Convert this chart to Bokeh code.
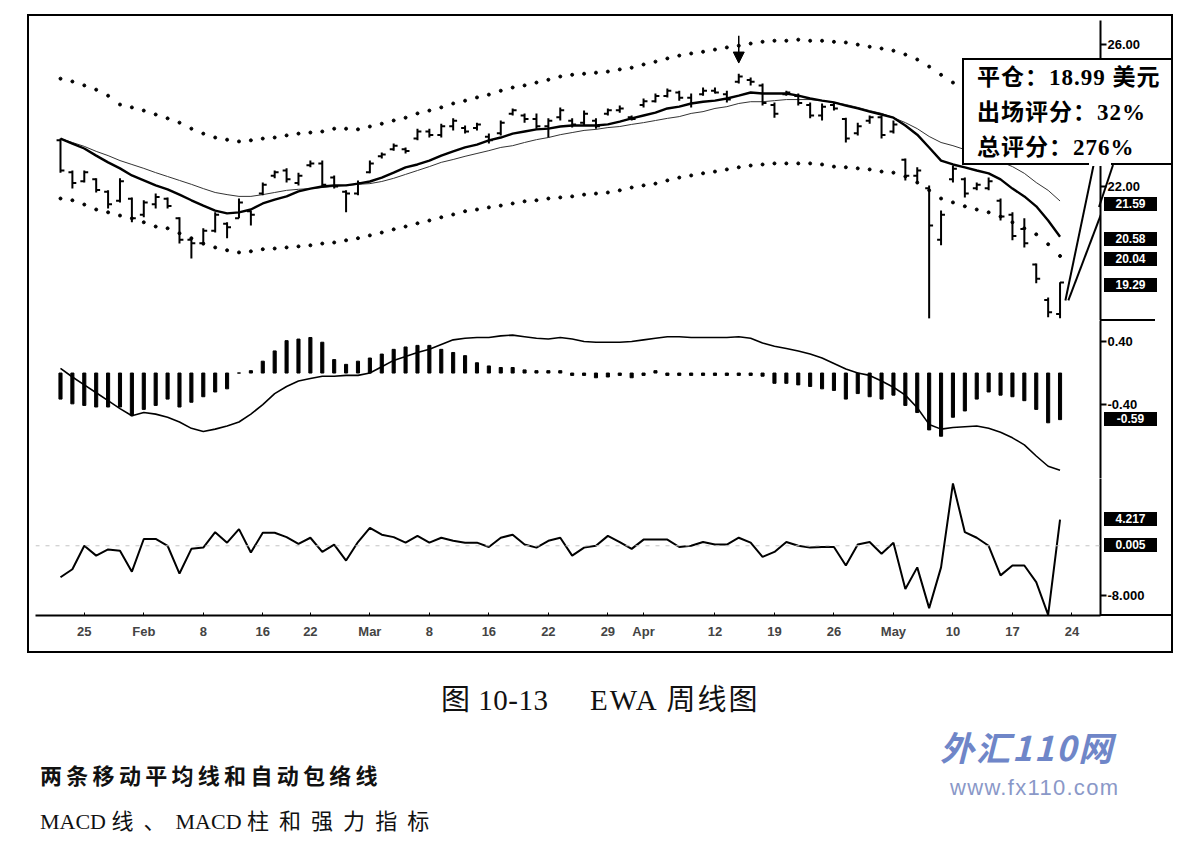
from bokeh.plotting import figure
from bokeh.models import (Range1d, FixedTicker, NumeralTickFormatter, Span,
                          Arrow, NormalHead, ColumnDataSource, Div)
from bokeh.layouts import column
from bokeh.embed import file_html
from bokeh.resources import INLINE

# ---------------- data ----------------
tick_pos = [2, 7, 12, 17, 21, 26, 31, 36, 41, 46, 49, 55, 60, 65, 70, 75, 80, 85]
tick_labels = ["25", "Feb", "8", "16", "22", "Mar", "8", "16", "22", "29", "Apr",
               "12", "19", "26", "May", "10", "17", "24"]

opens = [23.30, 22.40, 22.15, 22.20, 21.85, 21.60, 21.65, 21.20, 21.50, 21.65,
         21.10, 20.50, 20.40, 20.75, 20.95, 21.10, 21.30, 21.80, 22.30, 22.45,
         22.10, 22.60, 22.65, 22.25, 21.85, 21.80, 22.40, 22.85, 23.05, 23.05,
         23.35, 23.55, 23.45, 23.70, 23.65, 23.65, 23.40, 23.50, 24.05, 24.00,
         23.90, 23.70, 23.95, 23.85, 23.80, 23.85, 24.05, 24.15, 23.95, 24.30,
         24.40, 24.55, 24.65, 24.50, 24.60, 24.70, 24.60, 24.95, 25.00, 24.85,
         24.30, 24.60, 24.55, 24.30, 24.00, 24.30, 23.90, 23.50, 23.85, 23.95,
         23.55, 22.75, 22.30, 21.95, 20.50, 22.20, 22.20, 21.95, 21.95, 21.60,
         21.20, 20.80, 19.80, 18.80, 18.40]
highs = [23.35, 22.45, 22.45, 22.23, 21.89, 22.23, 21.69, 21.61, 21.80, 21.69,
         21.13, 20.56, 20.82, 21.27, 20.99, 21.66, 21.32, 22.11, 22.45, 22.51,
         22.39, 22.73, 22.73, 22.31, 21.89, 22.17, 22.73, 22.96, 23.21, 23.10,
         23.63, 23.63, 23.77, 23.92, 23.72, 23.80, 23.49, 23.86, 24.20, 24.06,
         24.06, 23.92, 24.23, 23.92, 24.14, 23.92, 24.20, 24.28, 24.00, 24.48,
         24.62, 24.76, 24.70, 24.62, 24.79, 24.79, 24.70, 25.18, 25.07, 24.90,
         24.37, 24.70, 24.62, 24.37, 24.34, 24.37, 23.94, 23.80, 24.00, 24.00,
         23.86, 22.79, 22.54, 22.03, 21.32, 22.59, 22.25, 22.11, 22.25, 21.66,
         21.27, 21.10, 19.83, 18.87, 19.30]
lows = [22.39, 21.94, 22.11, 21.83, 21.38, 21.55, 20.99, 21.13, 21.38, 21.38,
        20.39, 19.97, 20.34, 20.70, 20.54, 21.10, 20.90, 21.75, 22.23, 22.11,
        22.03, 22.54, 21.97, 21.94, 21.27, 21.75, 22.37, 22.79, 23.01, 22.93,
        23.30, 23.38, 23.38, 23.58, 23.49, 23.58, 23.21, 23.44, 24.00, 23.80,
        23.63, 23.38, 23.86, 23.66, 23.72, 23.63, 24.00, 24.08, 23.86, 24.23,
        24.37, 24.51, 24.42, 24.23, 24.56, 24.62, 24.37, 24.90, 24.85, 24.28,
        23.94, 24.56, 24.28, 23.92, 23.86, 24.14, 23.24, 23.44, 23.77, 23.35,
        23.49, 22.17, 22.08, 18.28, 20.34, 22.11, 21.69, 21.89, 21.89, 21.04,
        20.48, 20.28, 19.27, 18.31, 18.28]
closes = [22.45, 22.10, 22.40, 21.90, 21.50, 22.15, 21.10, 21.55, 21.70, 21.45,
          20.50, 20.40, 20.75, 21.20, 20.85, 21.55, 21.20, 22.05, 22.40, 22.20,
          22.30, 22.65, 22.05, 22.00, 21.80, 22.10, 22.65, 22.90, 23.15, 23.00,
          23.55, 23.45, 23.70, 23.85, 23.55, 23.75, 23.30, 23.80, 24.15, 23.90,
          23.70, 23.85, 24.15, 23.75, 24.05, 23.70, 24.15, 24.20, 23.90, 24.40,
          24.55, 24.70, 24.50, 24.35, 24.70, 24.65, 24.45, 25.10, 24.95, 24.35,
          24.05, 24.65, 24.35, 24.00, 24.25, 24.20, 23.35, 23.70, 23.95, 23.45,
          23.75, 22.30, 22.45, 20.90, 21.20, 22.50, 21.80, 22.05, 22.15, 21.15,
          20.60, 20.40, 19.40, 18.45, 19.29]
fast_ma = [23.35, 23.21, 23.07, 22.87, 22.68, 22.51, 22.31, 22.17, 22.03, 21.92,
           21.77, 21.61, 21.46, 21.32, 21.24, 21.27, 21.35, 21.52, 21.63, 21.72,
           21.86, 21.94, 22.00, 22.03, 22.03, 22.08, 22.14, 22.25, 22.39, 22.54,
           22.62, 22.73, 22.87, 22.99, 23.10, 23.18, 23.30, 23.38, 23.49, 23.55,
           23.61, 23.63, 23.69, 23.72, 23.72, 23.72, 23.75, 23.83, 23.92, 24.00,
           24.08, 24.20, 24.25, 24.34, 24.39, 24.42, 24.48, 24.56, 24.65, 24.62,
           24.62, 24.62, 24.56, 24.48, 24.42, 24.37, 24.28, 24.20, 24.11, 24.03,
           23.94, 23.72, 23.46, 23.10, 22.73, 22.62, 22.54, 22.45, 22.37, 22.20,
           21.94, 21.72, 21.44, 21.04, 20.58]
slow_ma = [23.35, 23.24, 23.13, 22.99, 22.87, 22.73, 22.62, 22.51, 22.39, 22.28,
           22.17, 22.06, 21.94, 21.83, 21.77, 21.72, 21.72, 21.77, 21.83, 21.89,
           21.92, 21.94, 21.97, 22.00, 22.03, 22.06, 22.08, 22.14, 22.23, 22.34,
           22.45, 22.56, 22.68, 22.76, 22.85, 22.93, 23.01, 23.10, 23.15, 23.24,
           23.32, 23.38, 23.46, 23.52, 23.58, 23.61, 23.66, 23.69, 23.75, 23.80,
           23.86, 23.92, 23.97, 24.06, 24.11, 24.20, 24.25, 24.34, 24.39, 24.39,
           24.42, 24.45, 24.45, 24.45, 24.42, 24.37, 24.31, 24.23, 24.14, 24.06,
           23.94, 23.80, 23.63, 23.41, 23.24, 23.15, 23.04, 22.93, 22.82, 22.70,
           22.56, 22.37, 22.11, 21.89, 21.59]
env_upper = [25.04, 24.96, 24.85, 24.73, 24.56, 24.31, 24.23, 24.14, 24.03, 23.92,
             23.80, 23.63, 23.49, 23.38, 23.32, 23.27, 23.30, 23.35, 23.38, 23.44,
             23.49, 23.52, 23.55, 23.63, 23.63, 23.61, 23.69, 23.77, 23.86, 23.94,
             24.06, 24.14, 24.23, 24.34, 24.42, 24.51, 24.59, 24.70, 24.79, 24.85,
             24.93, 25.01, 25.10, 25.15, 25.18, 25.21, 25.24, 25.30, 25.35, 25.44,
             25.52, 25.61, 25.69, 25.75, 25.80, 25.86, 25.92, 25.97, 26.03, 26.08,
             26.11, 26.11, 26.14, 26.11, 26.11, 26.08, 26.06, 26.00, 25.94, 25.89,
             25.83, 25.72, 25.58, 25.38, 25.15, 24.93, 24.76, 24.62, 24.48, 24.34,
             24.20, 24.03, 23.86, 23.66, 23.49]
env_lower = [21.66, 21.61, 21.49, 21.35, 21.27, 21.18, 21.10, 20.99, 20.87, 20.82,
             20.68, 20.54, 20.39, 20.28, 20.20, 20.14, 20.17, 20.23, 20.25, 20.28,
             20.31, 20.34, 20.39, 20.42, 20.48, 20.54, 20.62, 20.70, 20.79, 20.87,
             20.96, 21.04, 21.13, 21.21, 21.30, 21.35, 21.41, 21.46, 21.52, 21.58,
             21.61, 21.66, 21.69, 21.72, 21.77, 21.80, 21.83, 21.89, 21.97, 22.03,
             22.08, 22.17, 22.25, 22.31, 22.37, 22.42, 22.48, 22.54, 22.59, 22.62,
             22.65, 22.65, 22.65, 22.65, 22.62, 22.56, 22.54, 22.51, 22.48, 22.42,
             22.39, 22.28, 22.11, 21.89, 21.66, 21.55, 21.44, 21.35, 21.27, 21.15,
             20.99, 20.82, 20.65, 20.37, 20.04]
macd_line = [0.06, -0.05, -0.15, -0.25, -0.35, -0.45, -0.54, -0.50, -0.52, -0.56,
             -0.62, -0.70, -0.74, -0.71, -0.67, -0.62, -0.52, -0.40, -0.26, -0.17,
             -0.10, -0.07, -0.04, -0.04, -0.03, -0.03, 0.00, 0.08, 0.16, 0.21,
             0.26, 0.30, 0.36, 0.42, 0.44, 0.45, 0.45, 0.47, 0.48, 0.46,
             0.44, 0.43, 0.45, 0.43, 0.40, 0.39, 0.39, 0.39, 0.40, 0.42,
             0.44, 0.46, 0.46, 0.45, 0.45, 0.45, 0.45, 0.46, 0.44, 0.38,
             0.34, 0.31, 0.28, 0.24, 0.19, 0.12, 0.05, 0.00, -0.03, -0.10,
             -0.18, -0.28, -0.44, -0.65, -0.71, -0.69, -0.68, -0.67, -0.70, -0.75,
             -0.82, -0.91, -1.05, -1.18, -1.23]
macd_hist = [-0.33, -0.39, -0.41, -0.43, -0.43, -0.43, -0.54, -0.46, -0.41, -0.33,
             -0.43, -0.37, -0.30, -0.24, -0.20, 0.00, 0.03, 0.15, 0.28, 0.41,
             0.43, 0.45, 0.39, 0.17, 0.11, 0.15, 0.19, 0.24, 0.30, 0.33,
             0.35, 0.35, 0.30, 0.26, 0.22, 0.13, 0.09, 0.07, 0.07, 0.04,
             0.03, 0.03, 0.03, -0.03, -0.03, -0.06, -0.05, -0.03, -0.06, -0.03,
             0.03, -0.03, -0.03, -0.03, -0.03, -0.03, -0.03, -0.03, -0.03, -0.04,
             -0.13, -0.13, -0.15, -0.17, -0.20, -0.22, -0.33, -0.26, -0.30, -0.33,
             -0.28, -0.41, -0.50, -0.72, -0.80, -0.56, -0.48, -0.33, -0.24, -0.28,
             -0.30, -0.35, -0.46, -0.63, -0.59]
force = [-5.1, -3.8, 0.0, -1.6, -0.6, -0.8, -4.2, 1.1, 1.1, 0.0,
         -4.5, -0.5, -0.3, 2.2, 0.5, 2.7, -1.1, 2.1, 2.1, 1.4,
         0.3, 1.3, -1.0, 0.2, -2.4, 0.6, 2.9, 1.8, 1.4, 0.5,
         1.6, 0.5, 1.3, 0.8, 0.5, 0.5, -0.2, 1.3, 1.8, 0.2,
         -0.3, 0.8, 1.3, -1.6, -0.3, 0.0, 1.6, 0.6, -0.5, 1.0,
         1.0, 1.0, -0.2, 0.0, 0.6, 0.2, 0.2, 1.3, 0.5, -1.8,
         -1.0, 0.6, 0.0, -0.3, -0.2, -0.2, -3.2, 0.2, 0.6, -1.3,
         0.5, -7.0, -3.5, -10.1, -3.5, 10.1, 2.2, 1.3, 0.0, -4.8,
         -3.2, -3.2, -5.9, -11.2, 4.217]
force_mark = 0.005
callout_lines = ["平仓：18.99 美元", "出场评分：32%", "总评分：276%"]
caption = ["图 10-13", "EWA 周线图"]
notes = ["两条移动平均线和自动包络线", "MACD 线、MACD 柱和强力指标"]
watermark = ["外汇110网", "www.fx110.com"]

# ---------------- build ----------------
n = len(closes)
idx = list(range(n))
src = ColumnDataSource(dict(
    x=idx, xl=[i - 0.33 for i in idx], xr=[i + 0.33 for i in idx],
    o=opens, h=highs, l=lows, c=closes, fast=fast_ma, slow=slow_ma,
    up=env_upper, lo=env_lower, macd=macd_line, hist=macd_hist, force=force))

XR = Range1d(-2.1, 87.4)
W = 1142
FONT = "Liberation Sans"
common = dict(width=W, x_range=XR, output_backend="svg", toolbar_location=None,
              y_axis_location="right", min_border_left=6, min_border_right=71,
              outline_line_color=None, background_fill_color="white",
              border_fill_color="white")

YR1 = Range1d(18.22, 26.68)
YR2 = Range1d(-1.335, 0.665)
YR3 = Range1d(-11.3, 10.9)
p1 = figure(height=304, y_range=YR1, x_axis_location=None,
            min_border_top=4, min_border_bottom=0, **common)
p2 = figure(height=158, y_range=YR2, x_axis_location=None,
            min_border_top=0, min_border_bottom=0, **common)
p3 = figure(height=173, y_range=YR3,
            min_border_top=0, min_border_bottom=36, **common)


def style_y(p, ticks, fmt):
    p.grid.visible = False
    ax = p.yaxis[0]
    ax.ticker = FixedTicker(ticks=ticks, minor_ticks=[])
    ax.formatter = NumeralTickFormatter(format=fmt)
    ax.axis_line_width = 2
    ax.axis_line_color = "black"
    ax.major_tick_in = 0
    ax.major_tick_out = 6
    ax.major_tick_line_width = 2
    ax.minor_tick_line_color = None
    ax.major_label_text_font = FONT
    ax.major_label_text_font_size = "13px"
    ax.major_label_text_font_style = "bold"
    ax.major_label_text_color = "black"
    ax.major_label_standoff = 1


style_y(p1, [22, 26], "0.00")
style_y(p2, [-0.4, 0.4], "0.00")
style_y(p3, [-8], "0.000")

xa = p3.xaxis[0]
xa.ticker = FixedTicker(ticks=tick_pos, minor_ticks=[])
xa.major_label_overrides = {t: s for t, s in zip(tick_pos, tick_labels)}
xa.axis_line_width = 2
xa.major_tick_in = 3
xa.major_tick_out = 0
xa.major_tick_line_width = 1
xa.minor_tick_line_color = None
xa.major_label_text_font = FONT
xa.major_label_text_font_size = "13px"
xa.major_label_text_font_style = "bold"
xa.major_label_standoff = 8

# price panel
p1.scatter("x", "up", source=src, size=3, color="black")
p1.scatter("x", "lo", source=src, size=3, color="black")
p1.line("x", "slow", source=src, line_width=1, color="#333333")
p1.line("x", "fast", source=src, line_width=2.4, color="black")
p1.segment(x0="x", y0="l", x1="x", y1="h", source=src, line_width=2, color="black")
p1.segment(x0="xl", y0="o", x1="x", y1="o", source=src, line_width=2, color="black")
p1.segment(x0="x", y0="c", x1="xr", y1="c", source=src, line_width=2, color="black")

peak = highs.index(max(highs))
p1.add_layout(Arrow(x_start=peak, y_start=highs[peak] + 1.07, x_end=peak,
                    y_end=highs[peak] + 0.30, line_width=1.5,
                    end=NormalHead(size=11, fill_color="black", line_color="black")))

# callout pointer (towards the last bar)
tip_x = n - 1 + 0.45
tip_y = (closes[-1] + lows[-1]) / 2
p1.add_layout(Arrow(x_start=1058, y_start=155, start_units="screen",
                    x_end=tip_x, y_end=tip_y, end=None, line_width=2))
p1.add_layout(Arrow(x_start=1084, y_start=155, start_units="screen",
                    x_end=tip_x + 0.25, y_end=tip_y, end=None, line_width=2))

# MACD panel
p2.grid.visible = False
p2.vbar(x="x", top="hist", bottom=0, width=0.26, source=src, color="black")
p2.line("x", "macd", source=src, line_width=1.6, color="black")

# Force panel
p3.grid.visible = False
p3.add_layout(Span(location=0, dimension="width", line_color="#c4c4c4",
                   line_width=1, line_dash="4 6"))
p3.line("x", "force", source=src, line_width=2, color="black")

chart = column(p1, p2, p3, spacing=0, margin=(14, 0, 0, 27),
               styles={"border": "2px solid black"})

# ---------- html text layer below / over the chart ----------
DIV_TOP = 653
FRAMES = [(20, 300, YR1), (320, 158, YR2), (478, 137, YR3)]


def page_y(panel, v):
    top, h, r = FRAMES[panel]
    return top + (r.end - v) / (r.end - r.start) * h


def box(panel, v, txt, dy=0):
    t = page_y(panel, v) - 7 + dy - DIV_TOP
    return (f'<div style="position:absolute;left:1104px;top:{t:.1f}px;width:53px;height:14px;'
            f'background:#000;color:#fff;font:bold 12px \'Liberation Sans\',sans-serif;'
            f'line-height:14px;text-align:center;">{txt}</div>')


def spaced_cjk(s, gap):
    out = []
    for ch in s:
        if ord(ch) > 0x2000:
            out.append(f'<span style="letter-spacing:{gap}px">{ch}</span>')
        else:
            out.append(ch)
    return "".join(out)


parts = []
for v in [slow_ma[-1], fast_ma[-1], env_lower[-1], closes[-1]]:
    parts.append(box(0, v, f"{v:.2f}", dy=3))
parts.append(box(1, macd_hist[-1], f"{macd_hist[-1]:.2f}"))
parts.append(box(2, force[-1], f"{force[-1]:.3f}"))
parts.append(box(2, force_mark, f"{force_mark:.3f}"))

# axis-line extensions into the label column
parts.append(f'<div style="position:absolute;left:1100px;top:{614 - DIV_TOP}px;width:71px;height:2px;background:#000;"></div>')
parts.append(f'<div style="position:absolute;left:1100px;top:{319 - DIV_TOP}px;width:55px;height:2px;background:#000;"></div>')

# pointer piece outside the plotting frame
parts.append(f'<svg style="position:absolute;left:0px;top:{-DIV_TOP}px;overflow:visible;" width="1180" height="{DIV_TOP}">'
             f'<line x1="1113" y1="165" x2="1099" y2="207" stroke="black" stroke-width="2"/></svg>')

# callout box
parts.append(
    f'<div style="position:absolute;left:962px;top:{58 - DIV_TOP}px;width:211px;height:107px;'
    f'box-sizing:border-box;border:2px solid #000;background:#fff;padding-left:13px;'
    f'font-family:\'Liberation Serif\',\'Noto Sans CJK SC\',serif;font-weight:bold;font-size:23px;'
    f'line-height:35px;letter-spacing:1px;white-space:nowrap;color:#000;">'
    + "<br>".join(callout_lines) + '</div>')
parts.append(f'<div style="position:absolute;left:1089px;top:{161 - DIV_TOP}px;width:22px;height:5px;background:#fff;"></div>')

# caption and notes
parts.append(f'<div style="position:absolute;left:441px;top:27px;font-size:29px;letter-spacing:0.5px;white-space:nowrap;'
             f'font-family:\'Liberation Serif\',\'Noto Sans CJK SC\',serif;color:#111;">{caption[0]}</div>')
parts.append(f'<div style="position:absolute;left:590px;top:27px;font-size:29px;letter-spacing:2px;white-space:nowrap;'
             f'font-family:\'Liberation Serif\',\'Noto Sans CJK SC\',serif;color:#111;">{caption[1]}</div>')
parts.append(f'<div style="position:absolute;left:40px;top:106px;font-size:22px;font-weight:bold;letter-spacing:4.3px;'
             f'white-space:nowrap;font-family:\'Noto Sans CJK SC\',sans-serif;color:#111;">{notes[0]}</div>')
parts.append(f'<div style="position:absolute;left:40px;top:153px;font-size:22px;white-space:nowrap;'
             f'font-family:\'Liberation Serif\',\'Noto Sans CJK SC\',serif;color:#111;">{spaced_cjk(notes[1], 10)}</div>')
parts.append(f'<div style="position:absolute;left:940px;top:77px;font-size:34px;line-height:34px;font-weight:bold;font-style:italic;'
             f'letter-spacing:2px;color:#6f86c8;white-space:nowrap;font-family:\'Noto Sans CJK SC\',sans-serif;">{watermark[0]}</div>')
parts.append(f'<div style="position:absolute;left:950px;top:124px;font-size:22px;line-height:22px;letter-spacing:1.3px;color:#8a98c8;'
             f'white-space:nowrap;font-family:\'Liberation Sans\',sans-serif;">{watermark[1]}</div>')

cap_html = ('<div style="position:relative;width:1180px;height:185px;overflow:visible;">'
            + "".join(parts) + '</div>')
cap = Div(text=cap_html, width=1180, height=185, margin=0,
          styles={"overflow": "visible", "z-index": "5"})

root = column(chart, cap, spacing=0, styles={"overflow": "visible"})
open("out.html", "w").write(file_html(root, INLINE))
